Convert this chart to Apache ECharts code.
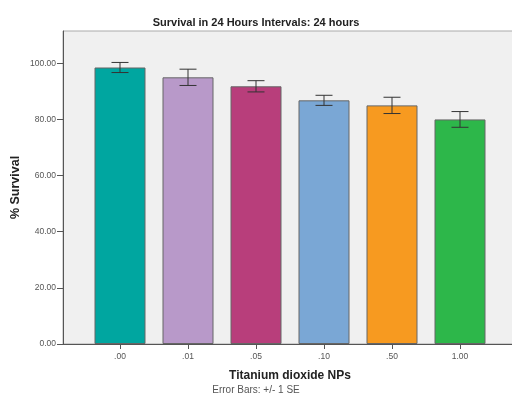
<!DOCTYPE html>
<html>
<head>
<meta charset="utf-8">
<script src="https://cdn.jsdelivr.net/npm/echarts@6/dist/echarts.min.js"></script>
<style>
html, body { margin: 0; padding: 0; background: #fff; }
#chart { width: 512px; height: 396px; }
</style>
</head>
<body>
<div id="chart"></div>
<script>
var categories = ['.00', '.01', '.05', '.10', '.50', '1.00'];
var survival = [98.5, 95.0, 91.8, 86.8, 85.0, 80.0];
var stdErr = [1.8, 2.9, 2.0, 1.8, 2.9, 2.8];
var barColors = ['#00a6a0', '#b899c9', '#b83e7b', '#7aa7d5', '#f79a20', '#2db74a'];

var yMax = 111.5;

var errData = [];
for (var i = 0; i < categories.length; i++) {
    errData.push([i, survival[i] - stdErr[i], survival[i] + stdErr[i]]);
}

var option = {
    animation: false,
    backgroundColor: '#fff',
    title: [
        {
            text: 'Survival in 24 Hours Intervals: 24 hours',
            left: 'center',
            top: 12,
            textStyle: {fontFamily: 'Liberation Sans', fontSize: 11, fontWeight: 'bold', color: '#222'}
        },
        {
            text: 'Error Bars: +/- 1 SE',
            left: 'center',
            top: 380,
            textStyle: {fontFamily: 'Liberation Sans', fontSize: 10, fontWeight: 'normal', color: '#555'}
        }
    ],
    grid: [
        // background box with the y axis
        {left: 63, right: -4, top: 31, bottom: 52, outerBoundsMode: 'none', show: true, backgroundColor: '#f0f0f0', borderColor: '#aaa', borderWidth: 1},
        // bars
        {left: 86, right: 18, top: 31, bottom: 52, outerBoundsMode: 'none'}
    ],
    xAxis: [
        {
            gridIndex: 0, type: 'value', min: 0, max: 1,
            axisLine: {show: true, onZero: false, lineStyle: {color: '#555', width: 1}},
            axisTick: {show: false}, axisLabel: {show: false}, splitLine: {show: false}
        },
        {
            gridIndex: 1, type: 'category', data: categories,
            axisLine: {show: false},
            axisTick: {show: true, alignWithLabel: true, length: 5, lineStyle: {color: '#555'}},
            axisLabel: {fontFamily: 'Liberation Sans', fontSize: 8.5, color: '#555', margin: 8},
            name: 'Titanium dioxide NPs',
            nameLocation: 'middle',
            nameGap: 26,
            nameTextStyle: {fontFamily: 'Liberation Sans', fontSize: 12, fontWeight: 'bold', color: '#222'}
        }
    ],
    yAxis: [
        {
            gridIndex: 0, type: 'value', min: 0, max: yMax, interval: 20,
            axisLine: {show: true, lineStyle: {color: '#555', width: 1}},
            axisTick: {show: true, length: 6, lineStyle: {color: '#555'}},
            axisLabel: {
                fontFamily: 'Liberation Sans', fontSize: 8.5, color: '#555', margin: 7, showMaxLabel: false,
                formatter: function (v) { return v.toFixed(2); }
            },
            splitLine: {show: false},
            name: '% Survival',
            nameLocation: 'middle',
            nameGap: 41,
            nameMoveOverlap: false,
            nameTextStyle: {fontFamily: 'Liberation Sans', fontSize: 12.5, fontWeight: 'bold', color: '#222'}
        },
        {
            gridIndex: 1, type: 'value', min: 0, max: yMax,
            show: false
        }
    ],
    series: [
        {
            type: 'bar',
            xAxisIndex: 1,
            yAxisIndex: 1,
            barWidth: 51,
            data: survival.map(function (v, i) {
                return {value: v, itemStyle: {color: barColors[i]}};
            }),
            itemStyle: {borderColor: '#666', borderWidth: 1}
        },
        {
            type: 'custom',
            xAxisIndex: 1,
            yAxisIndex: 1,
            data: errData,
            z: 10,
            renderItem: function (params, api) {
                var lo = api.coord([api.value(0), api.value(1)]);
                var hi = api.coord([api.value(0), api.value(2)]);
                var hw = 8.5;
                var style = {stroke: '#333', lineWidth: 1};
                return {
                    type: 'group',
                    children: [
                        {type: 'line', shape: {x1: hi[0], y1: hi[1], x2: lo[0], y2: lo[1]}, style: style},
                        {type: 'line', shape: {x1: hi[0] - hw, y1: hi[1], x2: hi[0] + hw, y2: hi[1]}, style: style},
                        {type: 'line', shape: {x1: lo[0] - hw, y1: lo[1], x2: lo[0] + hw, y2: lo[1]}, style: style}
                    ]
                };
            }
        }
    ]
};

var chart = echarts.init(document.getElementById('chart'));
chart.setOption(option);
</script>
</body>
</html>
